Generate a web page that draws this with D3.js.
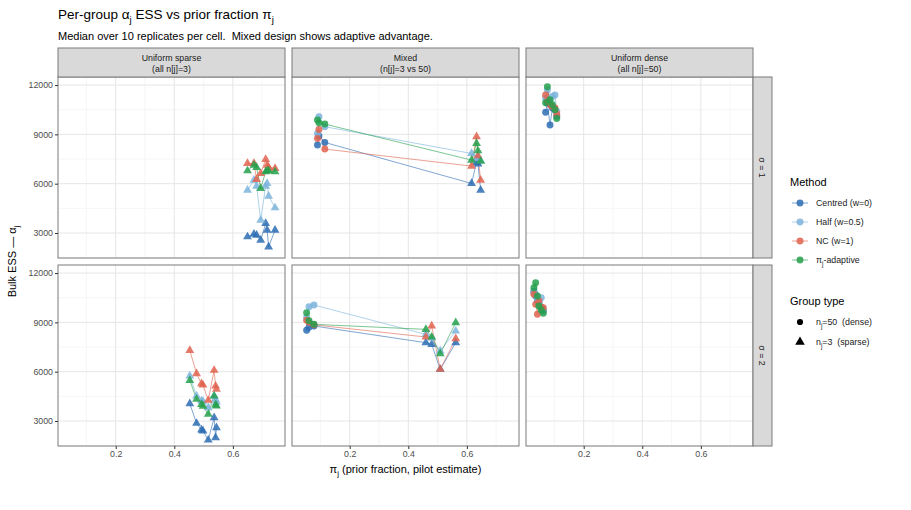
<!DOCTYPE html>
<html>
<head>
<meta charset="utf-8">
<script src="https://cdn.jsdelivr.net/npm/d3@7"></script>
<style>
  html, body { margin: 0; padding: 0; background: #fff; }
  svg text { font-family: "Liberation Sans", Arial, Helvetica, sans-serif; white-space: pre; }
</style>
</head>
<body>
<div id="chart"></div>
<script>
// ── DATA ────────────────────────────────────────────────────────────────────
const methods      = ["Centred (w=0)", "Half (w=0.5)", "NC (w=1)", "adaptive"];
const methodColors = ["#2d6db3", "#7cb4dc", "#e0634f", "#24a04c"];
const designs      = ["Uniform sparse", "Mixed", "Uniform dense"];
const designSubs   = ["(all n[j]=3)", "(n[j]=3 vs 50)", "(all n[j]=50)"];
const sigmaLabels  = ["σ = 1", "σ = 2"];
const xTicks       = [0.2, 0.4, 0.6];
const yTicks       = [3000, 6000, 9000, 12000];

// Uniform sparse, sigma = 1
const usPi1      = [0.650, 0.672, 0.681, 0.695, 0.712, 0.717, 0.722, 0.744];
const usCentred1 = [2770, 2930, 2870, 2565, 3580, 3175, 2160, 3175];
const usHalf1    = [5610, 6220, 5855, 3785, 5855, 6015, 5245, 4535];
const usNC1      = [7235, 7235, 6260, 6625, 7480, 7130, 6990, 6930];
const usAdapt1   = [6785, 7130, 6990, 5710, 6725, 6785, 6785, 6725];

// Uniform sparse, sigma = 2
const usPi2      = [0.453, 0.476, 0.493, 0.498, 0.516, 0.536, 0.541, 0.544];
const usCentred2 = [4055, 2860, 2455, 2400, 1845, 3200, 1990, 2595];
const usHalf2    = [5740, 4520, 4220, 4200, 3810, 4520, 4300, 4150];
const usNC2      = [7300, 5880, 5270, 5190, 4260, 6085, 5130, 4930];
const usAdapt2   = [5475, 4320, 4015, 3900, 3410, 4520, 3975, 3915];

// Mixed, sigma = 1 (first three groups dense, rest sparse)
const mxPi1      = [0.090, 0.095, 0.115, 0.616, 0.633, 0.638, 0.647];
const mxType1    = ["dense", "dense", "dense", "sparse", "sparse", "sparse", "sparse"];
const mxCentred1 = [8350, 8900, 8510, 6015, 7300, 7200, 5610];
const mxHalf1    = [9060, 10070, 9465, 7840, 7540, 7600, 7400];
const mxNC1      = [8755, 9300, 8105, 7070, 8860, 7700, 6220];
const mxAdapt1   = [9870, 9700, 9627, 7435, 8450, 8000, 7375];

// Mixed, sigma = 2
const mxPi2      = [0.053, 0.061, 0.078, 0.460, 0.480, 0.509, 0.562];
const mxType2    = ["dense", "dense", "dense", "sparse", "sparse", "sparse", "sparse"];
const mxCentred2 = [8515, 8700, 8780, 7765, 7665, 6145, 7765];
const mxHalf2    = [9300, 9950, 10055, 8270, 8050, 7260, 8475];
const mxNC2      = [9125, 9000, 8850, 8110, 8780, 6145, 8005];
const mxAdapt2   = [9590, 9100, 8880, 8575, 8110, 7095, 8980];

// Uniform dense, sigma = 1
const udPi1      = [0.070, 0.076, 0.085, 0.093, 0.102, 0.108];
const udCentred1 = [10340, 10900, 9565, 10600, 10480, 10100];
const udHalf1    = [11200, 11700, 11000, 11300, 11390, 10400];
const udNC1      = [11390, 11000, 10800, 10700, 10600, 10235];
const udAdapt1   = [10925, 11900, 11100, 10800, 10500, 9970];

// Uniform dense, sigma = 2
const udPi2      = [0.030, 0.036, 0.042, 0.047, 0.055, 0.062];
const udCentred2 = [10900, 10600, 10300, 10200, 9900, 9700];
const udHalf2    = [10800, 10700, 10400, 10100, 10500, 9800];
const udNC2      = [10705, 10095, 9490, 10300, 9900, 9890];
const udAdapt2   = [11100, 11410, 10600, 10000, 9750, 9550];

const panels = [
  { row: 0, col: 0, pi: usPi1, type: usPi1.map(() => "sparse"), ess: [usCentred1, usHalf1, usNC1, usAdapt1] },
  { row: 0, col: 1, pi: mxPi1, type: mxType1,                   ess: [mxCentred1, mxHalf1, mxNC1, mxAdapt1] },
  { row: 0, col: 2, pi: udPi1, type: udPi1.map(() => "dense"),  ess: [udCentred1, udHalf1, udNC1, udAdapt1] },
  { row: 1, col: 0, pi: usPi2, type: usPi2.map(() => "sparse"), ess: [usCentred2, usHalf2, usNC2, usAdapt2] },
  { row: 1, col: 1, pi: mxPi2, type: mxType2,                   ess: [mxCentred2, mxHalf2, mxNC2, mxAdapt2] },
  { row: 1, col: 2, pi: udPi2, type: udPi2.map(() => "dense"),  ess: [udCentred2, udHalf2, udNC2, udAdapt2] },
];

// ── LAYOUT ──────────────────────────────────────────────────────────────────
const W = 911, H = 510;
const left = 58, panelW = 227, gapX = 7;
const top0 = 77, panelH = 181, gapY = 7;
const stripH = 29, rStripW = 19;
const ink = "#1a1a1a", tickInk = "#4d4d4d", borderInk = "#7a7a7a";

const svg = d3.select("#chart").append("svg")
  .attr("width", W).attr("height", H)
  .style("display", "block");

svg.append("rect").attr("width", W).attr("height", H).attr("fill", "#fff");

// text with subscript pieces: [["Per-group α"], ["j", true], ...]
function richText(sel, parts, size) {
  const sub = size * 0.72, shift = size * 0.3;
  parts.forEach((p, i) => {
    const t = sel.append("tspan").text(p[0]);
    if (p[1]) t.attr("font-size", sub).attr("dy", shift);
    else if (i > 0 && parts[i - 1][1]) t.attr("dy", -shift);
  });
  return sel;
}

const colX = c => left + c * (panelW + gapX);
const rowY = r => top0 + r * (panelH + gapY);

const xScales = [0, 1, 2].map(c => d3.scaleLinear().domain([0.003, 0.778]).range([colX(c), colX(c) + panelW]));
const yScales = [0, 1].map(r => d3.scaleLinear().domain([1480, 12490]).range([rowY(r) + panelH, rowY(r)]));

const xMinor = [0.1, 0.3, 0.5, 0.7];
const yMinor = [1500, 4500, 7500, 10500];

// ── TITLES ──────────────────────────────────────────────────────────────────
richText(svg.append("text").attr("x", 58).attr("y", 19).attr("font-size", 13.5).attr("fill", "#000"),
  [["Per-group α"], ["j", true], [" ESS vs prior fraction π"], ["j", true]], 13.5);

svg.append("text").attr("x", 58).attr("y", 40).attr("font-size", 11).attr("fill", "#000")
  .text("Median over 10 replicates per cell.  Mixed design shows adaptive advantage.");

// ── PANELS ──────────────────────────────────────────────────────────────────
panels.forEach(p => {
  const x = xScales[p.col], y = yScales[p.row];
  const g = svg.append("g");
  const x0 = colX(p.col), y0 = rowY(p.row);

  // grid
  g.selectAll(".vmin").data(xMinor).join("line")
    .attr("x1", d => x(d)).attr("x2", d => x(d)).attr("y1", y0).attr("y2", y0 + panelH)
    .attr("stroke", "#f0f0f0").attr("stroke-width", 0.6);
  g.selectAll(".hmin").data(yMinor).join("line")
    .attr("y1", d => y(d)).attr("y2", d => y(d)).attr("x1", x0).attr("x2", x0 + panelW)
    .attr("stroke", "#f0f0f0").attr("stroke-width", 0.6);
  g.append("g").selectAll("line").data(xTicks).join("line")
    .attr("x1", d => x(d)).attr("x2", d => x(d)).attr("y1", y0).attr("y2", y0 + panelH)
    .attr("stroke", "#e6e6e6").attr("stroke-width", 1);
  g.append("g").selectAll("line").data(yTicks).join("line")
    .attr("y1", d => y(d)).attr("y2", d => y(d)).attr("x1", x0).attr("x2", x0 + panelW)
    .attr("stroke", "#e6e6e6").attr("stroke-width", 1);

  // lines, one per method, points sorted by pi
  const order = d3.range(p.pi.length).sort((a, b) => p.pi[a] - p.pi[b]);
  p.ess.forEach((vals, m) => {
    const line = d3.line().x(i => x(p.pi[i])).y(i => y(vals[i]));
    g.append("path").datum(order)
      .attr("fill", "none").attr("stroke", methodColors[m])
      .attr("stroke-width", 1).attr("stroke-opacity", 0.6)
      .attr("d", line);
  });

  // points
  p.ess.forEach((vals, m) => {
    g.append("g").selectAll("path").data(order).join("path")
      .attr("transform", i => `translate(${x(p.pi[i])},${y(vals[i])})`)
      .attr("d", i => p.type[i] === "dense"
        ? d3.symbol(d3.symbolCircle, 38)()
        : d3.symbol(d3.symbolTriangle, 34)())
      .attr("fill", methodColors[m]).attr("fill-opacity", 0.85);
  });

  // border
  g.append("rect").attr("x", x0).attr("y", y0).attr("width", panelW).attr("height", panelH)
    .attr("fill", "none").attr("stroke", borderInk).attr("stroke-width", 1);
});

// ── STRIPS ─────────────────────────────────────────────────────────────────
designs.forEach((d, c) => {
  const x0 = colX(c);
  svg.append("rect").attr("x", x0).attr("y", top0 - stripH).attr("width", panelW).attr("height", stripH)
    .attr("fill", "#d9d9d9").attr("stroke", borderInk).attr("stroke-width", 1);
  svg.append("text").attr("x", x0 + panelW / 2).attr("y", top0 - stripH + 13)
    .attr("text-anchor", "middle").attr("font-size", 8.8).attr("fill", ink).text(d);
  svg.append("text").attr("x", x0 + panelW / 2).attr("y", top0 - stripH + 24)
    .attr("text-anchor", "middle").attr("font-size", 8.8).attr("fill", ink).text(designSubs[c]);
});

sigmaLabels.forEach((s, r) => {
  const sx = colX(2) + panelW, y0 = rowY(r);
  svg.append("rect").attr("x", sx).attr("y", y0).attr("width", rStripW).attr("height", panelH)
    .attr("fill", "#d9d9d9").attr("stroke", borderInk).attr("stroke-width", 1);
  svg.append("text")
    .attr("transform", `translate(${sx + rStripW / 2},${y0 + panelH / 2}) rotate(90)`)
    .attr("text-anchor", "middle").attr("dy", "0.35em")
    .attr("font-size", 8.8).attr("fill", ink).text(s);
});

// ── AXES ────────────────────────────────────────────────────────────────────
yScales.forEach(y => {
  svg.append("g").attr("transform", `translate(${left},0)`)
    .call(d3.axisLeft(y).tickValues(yTicks).tickSize(3).tickPadding(2).tickFormat(d3.format("d")))
    .call(ax => ax.select(".domain").remove())
    .call(ax => ax.selectAll(".tick line").attr("stroke", "#333"))
    .call(ax => ax.selectAll(".tick text").attr("fill", tickInk).attr("font-size", 8.8)
      .attr("font-family", "Liberation Sans, Arial, sans-serif"));
});

xScales.forEach(x => {
  svg.append("g").attr("transform", `translate(0,${rowY(1) + panelH})`)
    .call(d3.axisBottom(x).tickValues(xTicks).tickSize(3).tickPadding(2).tickFormat(d3.format(".1f")))
    .call(ax => ax.select(".domain").remove())
    .call(ax => ax.selectAll(".tick line").attr("stroke", "#333"))
    .call(ax => ax.selectAll(".tick text").attr("fill", tickInk).attr("font-size", 8.8)
      .attr("font-family", "Liberation Sans, Arial, sans-serif"));
});

richText(svg.append("text").attr("x", (left + colX(2) + panelW) / 2).attr("y", 473)
  .attr("text-anchor", "middle").attr("font-size", 11).attr("fill", "#000"),
  [["π"], ["j", true], [" (prior fraction, pilot estimate)"]], 11);

richText(svg.append("text")
  .attr("transform", `translate(16,${rowY(0) + (2 * panelH + gapY) / 2}) rotate(-90)`)
  .attr("text-anchor", "middle").attr("font-size", 11).attr("fill", "#000"),
  [["Bulk ESS — α"], ["j", true]], 11);

// ── LEGENDS ────────────────────────────────────────────────────────────────
const lgX = 790;
svg.append("text").attr("x", lgX).attr("y", 186).attr("font-size", 11).attr("fill", "#000").text("Method");

const methodLabels = [[["Centred (w=0)"]], [["Half (w=0.5)"]], [["NC (w=1)"]], [["π"], ["j", true], ["-adaptive"]]];
methodLabels.forEach((lab, m) => {
  const cy = 203 + m * 19;
  svg.append("line").attr("x1", lgX + 2).attr("x2", lgX + 18).attr("y1", cy).attr("y2", cy)
    .attr("stroke", methodColors[m]).attr("stroke-opacity", 0.6).attr("stroke-width", 1);
  svg.append("path").attr("transform", `translate(${lgX + 10},${cy})`)
    .attr("d", d3.symbol(d3.symbolCircle, 38)())
    .attr("fill", methodColors[m]).attr("fill-opacity", 0.85);
  richText(svg.append("text").attr("x", lgX + 26).attr("y", cy + 3.2).attr("font-size", 8.8).attr("fill", ink), lab, 8.8);
});

svg.append("text").attr("x", lgX).attr("y", 305).attr("font-size", 11).attr("fill", "#000").text("Group type");
const typeLabels = [[["n"], ["j", true], ["=50  (dense)"]], [["n"], ["j", true], ["=3  (sparse)"]]];
const typeSymbols = [d3.symbolCircle, d3.symbolTriangle];
typeLabels.forEach((lab, k) => {
  const cy = 322 + k * 20;
  svg.append("path").attr("transform", `translate(${lgX + 10},${cy})`)
    .attr("d", d3.symbol(typeSymbols[k], k === 0 ? 30 : 40)())
    .attr("fill", "#000");
  richText(svg.append("text").attr("x", lgX + 26).attr("y", cy + 3.2).attr("font-size", 8.8).attr("fill", ink), lab, 8.8);
});
</script>
</body>
</html>
